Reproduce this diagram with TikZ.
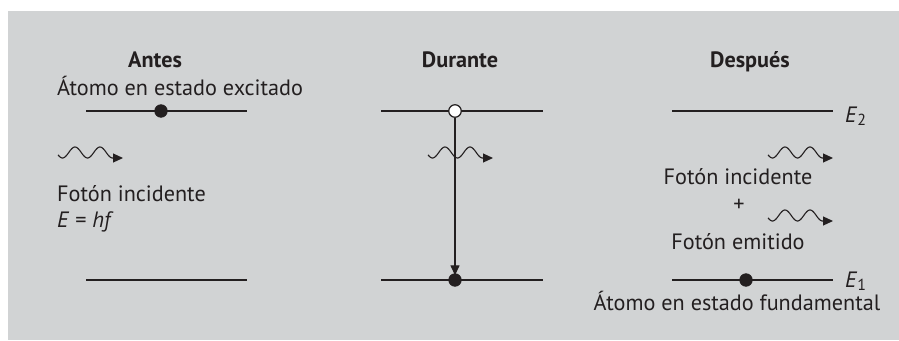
\documentclass[tikz,border=0pt]{standalone}
\usepackage{fontspec}
\setmainfont{PT Sans}
\usetikzlibrary{arrows.meta}
\definecolor{panel}{HTML}{D1D3D4}
\definecolor{ink}{HTML}{231F20}
\tikzset{
  level/.style={draw=ink, line width=1.3pt},
  txt/.style={text=ink, font=\fontsize{22.2}{26}\selectfont, inner sep=0pt, anchor=base},
  head/.style={txt, font=\fontsize{22.2}{26}\selectfont\bfseries},
  fulldot/.style={circle, fill=ink, draw=ink, line width=0.8pt, minimum size=12.5pt, inner sep=0pt},
  opendot/.style={circle, fill=white, draw=ink, line width=1.2pt, minimum size=12.5pt, inner sep=0pt},
  photon/.pic={
    \draw[ink, line width=1.1pt, -{Triangle[length=10pt,width=9pt]}]
      plot[domain=0:54.5, samples=90, smooth] (\x, {-5.5*sin(360*(\x-10.75)/25)})
      -- (65,5.5);
  }
}
\begin{document}
\begin{tikzpicture}[x=1pt, y=-1pt]
  \useasboundingbox (0,0) rectangle (899,340);
  \fill[panel] (8,11) rectangle (899,340);

  % Antes
  \node[head, anchor=base] (hA) at (155,67.5) {Antes};
  \node[txt, anchor=base] (excA) at (180,95.5) {Átomo en estado excitado};
  \coordinate (A2l) at (86,111);  \coordinate (A2r) at (247,111);
  \coordinate (A1l) at (86,280);  \coordinate (A1r) at (247,280);
  \draw[level] (A2l) -- (A2r);
  \draw[level] (A1l) -- (A1r);
  \node[fulldot] (eA) at (161,111) {};
  \pic at (58,152.5) {photon};
  \node[txt, anchor=base west] (incA) at (57,201.7) {Fotón incidente};
  \node[txt, anchor=base west] (enA) at (57,227) {\textit{E} = \textit{hf}};

  % Durante
  \node[head, anchor=base] (hB) at (460,67.5) {Durante};
  \coordinate (B2l) at (381,111);  \coordinate (B2r) at (543,111);
  \coordinate (B1l) at (381,280);  \coordinate (B1r) at (543,280);
  \draw[level] (B2l) -- (B2r);
  \draw[level] (B1l) -- (B1r);
  \node[opendot] (hole) at (455,111) {};
  \node[fulldot] (eB) at (455,280) {};
  \draw[ink, line width=1.2pt, -{Triangle[length=10pt,width=9pt]}]
    (hole.south) -- ([yshift=-2pt]eB.north);
  \pic at (428,152.5) {photon};

  % Después
  \node[head, anchor=base] (hC) at (750,67.5) {Después};
  \coordinate (C2l) at (672,111);  \coordinate (C2r) at (833,111);
  \coordinate (C1l) at (672,280);  \coordinate (C1r) at (833,280);
  \draw[level] (C2l) -- (C2r);
  \draw[level] (C1l) -- (C1r);
  \node[fulldot] (eC) at (746,280) {};
  \node[txt, anchor=base west] (E2) at (845,122) {\textit{E}\raisebox{-0.35ex}{\fontsize{16}{16}\selectfont 2}};
  \node[txt, anchor=base west] (E1) at (845,287) {\textit{E}\raisebox{-0.35ex}{\fontsize{16}{16}\selectfont 1}};
  \pic at (768,152.5) {photon};
  \node[txt, anchor=base] (incC) at (738,184) {Fotón incidente};
  \node[txt, anchor=center] (plus) at (739,205) {+};
  \pic at (768,215.5) {photon};
  \node[txt, anchor=base] (emC) at (738,249) {Fotón emitido};
  \node[txt, anchor=base] (funC) at (737,310) {Átomo en estado fundamental};
\end{tikzpicture}
\end{document}
